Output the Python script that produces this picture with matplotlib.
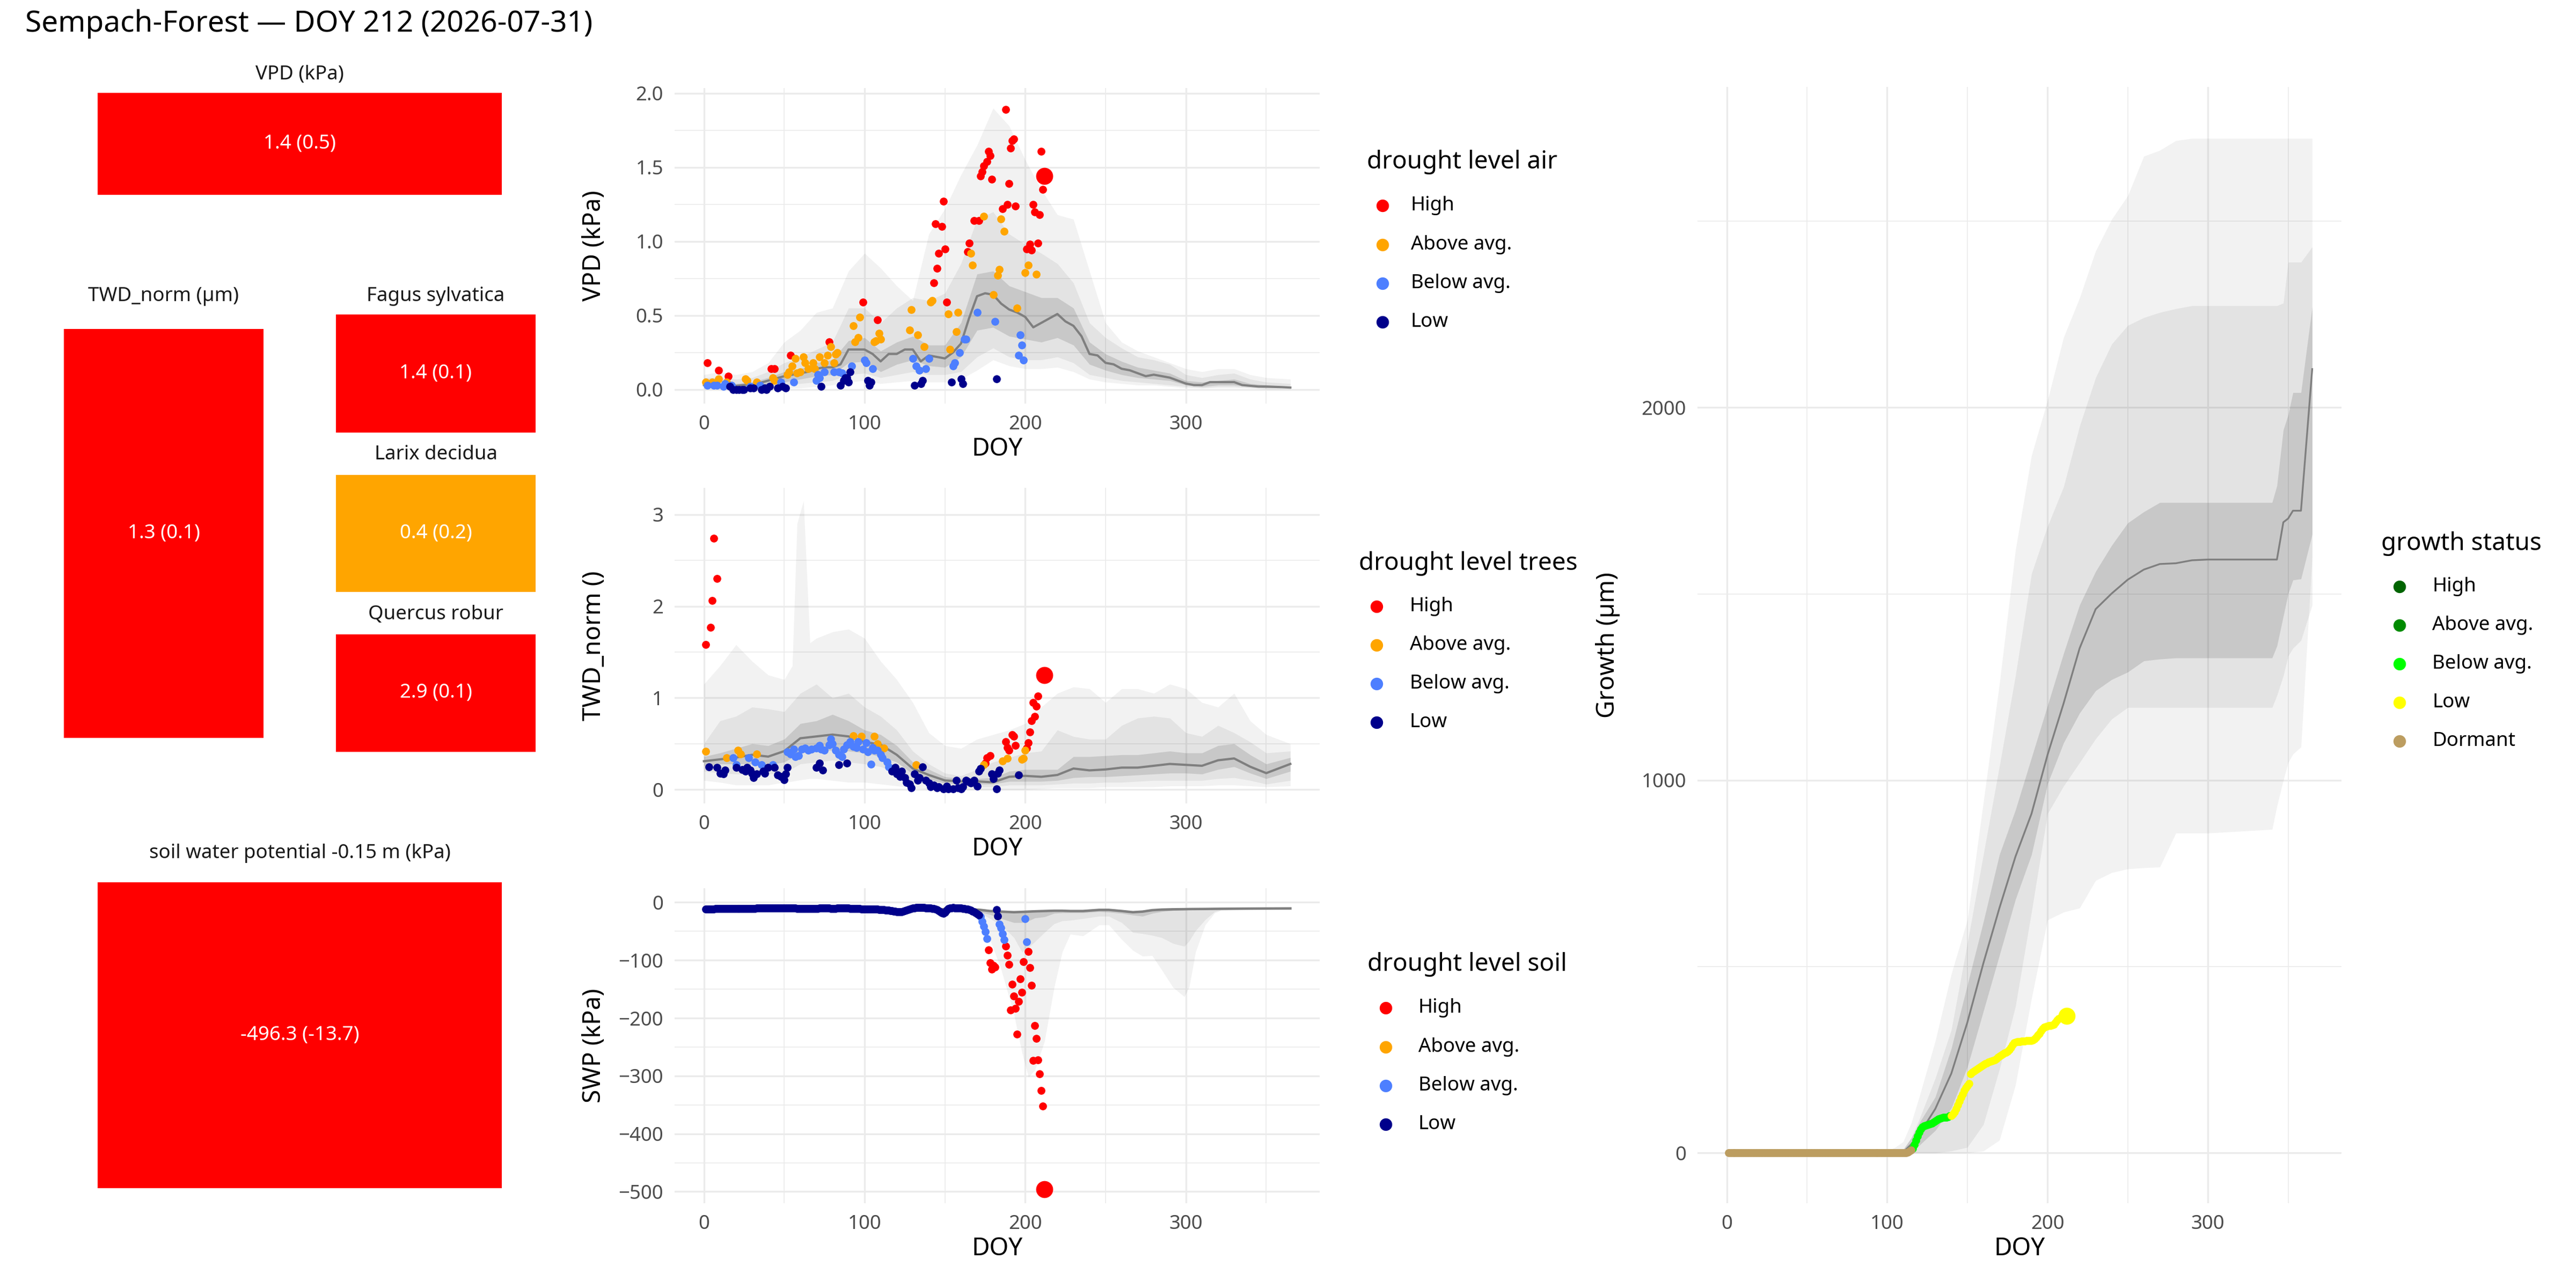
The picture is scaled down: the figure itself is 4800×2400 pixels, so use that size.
import matplotlib
matplotlib.use("Agg")
import matplotlib.pyplot as plt
from matplotlib.lines import Line2D
from matplotlib.patches import Rectangle
from matplotlib.ticker import FormatStrFormatter

plt.rcParams['font.family'] = ['Noto Sans', 'DejaVu Sans']

W, H = 4800, 2400

title = "Sempach-Forest \u2014 DOY 212 (2026-07-31)"
levels = ["High", "Above avg.", "Below avg.", "Low"]
level_colors = ["#FF0000", "#FFA500", "#4D7FFF", "#00008B"]
growth_levels = ["High", "Above avg.", "Below avg.", "Low", "Dormant"]
growth_colors = ["#006400", "#008B00", "#00FF00", "#FFFF00", "#BC9D60"]
# outer / middle / inner ribbons, translucent so the grid shows through
band_alpha = [0.051, 0.058, 0.118]

# summary tiles
tile_names = ["VPD (kPa)", "TWD_norm (\u00b5m)", "Fagus sylvatica", "Larix decidua",
              "Quercus robur", "soil water potential -0.15 m (kPa)"]
tile_values = [1.4, 1.3, 1.4, 0.4, 2.9, -496.3]
tile_sd = [0.5, 0.1, 0.1, 0.2, 0.1, -13.7]
tile_levels = ["High", "High", "High", "Above avg.", "High", "High"]

today_doy = 212
vpd_today = 1.44
twd_today = 1.25
swp_today = -496.3
growth_today = 368

# ---------------- VPD ----------------
vpd_high_doy = [2, 9, 15, 42, 44, 54, 78, 99, 108, 143, 144, 145, 146, 148, 149, 150, 151,
                164, 165, 168, 171, 172, 173, 174, 176, 177, 178, 179, 186, 188, 189, 190, 191,
                192, 193, 194, 201, 203, 204, 205, 206, 208, 209, 210, 211]
vpd_high = [0.18, 0.13, 0.09, 0.14, 0.14, 0.23, 0.32, 0.59, 0.47, 0.72, 1.12, 0.82, 0.92, 1.10, 1.27, 0.95, 0.59,
            0.93, 0.99, 1.14, 1.14, 1.44, 1.47, 1.51, 1.54, 1.61, 1.58, 1.42, 1.22, 1.89, 1.25, 1.39, 1.63,
            1.68, 1.69, 1.24, 0.95, 0.98, 0.94, 1.25, 1.20, 0.99, 1.18, 1.61, 1.35]
vpd_above_doy = [1, 5, 9, 14, 26, 27, 33, 43, 44, 52, 53, 55, 57, 58, 60, 62, 63, 65, 68, 69,
                 72, 75, 77, 79, 81, 82, 83, 93, 94, 96, 97, 106, 107, 109, 110, 128, 129, 133, 137, 141, 142,
                 152, 153, 157, 158, 166, 167, 174, 180, 183, 184, 185, 187, 195, 200, 202, 207]
vpd_above = [0.05, 0.05, 0.07, 0.05, 0.07, 0.06, 0.05, 0.08, 0.06, 0.10, 0.12, 0.16, 0.21, 0.11, 0.12, 0.22, 0.18, 0.14, 0.18, 0.14,
             0.22, 0.18, 0.23, 0.29, 0.18, 0.24, 0.25, 0.43, 0.32, 0.35, 0.49, 0.32, 0.33, 0.38, 0.34, 0.40, 0.54, 0.37, 0.29, 0.59, 0.60,
             0.51, 0.27, 0.39, 0.52, 0.92, 0.84, 1.17, 0.64, 0.77, 0.81, 1.15, 1.07, 0.55, 0.79, 0.84, 0.78]
vpd_below_doy = [2, 6, 8, 12, 13, 17, 29, 35, 48, 56, 70, 71, 72, 75, 81, 84, 86, 92, 100, 101, 105,
                 130, 132, 134, 138, 140, 155, 156, 159, 162, 163, 170, 181, 196, 197, 198, 199]
vpd_below = [0.03, 0.03, 0.03, 0.02, 0.04, 0.03, 0.02, 0.03, 0.05, 0.05, 0.06, 0.10, 0.08, 0.12, 0.12, 0.12, 0.11, 0.16, 0.20, 0.18, 0.14,
             0.21, 0.16, 0.13, 0.14, 0.21, 0.16, 0.18, 0.25, 0.34, 0.34, 0.52, 0.46, 0.23, 0.37, 0.30, 0.20]
vpd_low_doy = [16, 18, 20, 22, 24, 25, 29, 31, 36, 38, 39, 41, 46, 49, 51, 73, 85, 87, 88, 89,
               90, 91, 102, 103, 104, 131, 135, 136, 154, 160, 161, 182]
vpd_low = [0.02, 0.00, 0.00, 0.00, 0.00, 0.00, 0.01, 0.01, 0.00, 0.01, 0.00, 0.02, 0.01, 0.02, 0.01, 0.02, 0.03, 0.06, 0.08, 0.08,
           0.05, 0.12, 0.06, 0.03, 0.05, 0.03, 0.04, 0.06, 0.05, 0.07, 0.04, 0.07]

vpd_med_doy = [0, 5, 10, 15, 20, 25, 30, 35, 40, 45, 50, 55, 60, 65, 70, 75, 80, 85, 90, 95, 100, 105, 110, 115,
               120, 125, 130, 135, 140, 145, 150, 155, 160, 165, 170, 175, 180, 185, 190, 195, 200, 205, 210, 215,
               220, 225, 230, 235, 240, 245, 250, 255, 260, 265, 270, 275, 280, 285, 290, 295, 300, 305, 310, 315,
               320, 325, 330, 335, 340, 345, 350, 355, 360, 365]
vpd_med = [0.03, 0.03, 0.03, 0.03, 0.025, 0.03, 0.035, 0.045, 0.06, 0.075, 0.09, 0.10, 0.11, 0.12, 0.14, 0.15, 0.15, 0.17, 0.27, 0.27, 0.27, 0.24, 0.19, 0.24,
           0.24, 0.27, 0.27, 0.19, 0.23, 0.22, 0.21, 0.25, 0.31, 0.48, 0.63, 0.65, 0.64, 0.58, 0.54, 0.52, 0.49, 0.42, 0.45, 0.48,
           0.51, 0.46, 0.43, 0.36, 0.24, 0.23, 0.18, 0.17, 0.14, 0.13, 0.11, 0.09, 0.10, 0.09, 0.08, 0.06, 0.04, 0.03, 0.03, 0.05,
           0.05, 0.05, 0.05, 0.03, 0.025, 0.02, 0.02, 0.018, 0.016, 0.013]

band_doy = [0, 10, 20, 30, 40, 50, 60, 70, 80, 90, 100, 110, 120, 130, 140, 150, 160, 170, 180,
            190, 200, 210, 220, 230, 240, 250, 260, 270, 280, 290, 300, 310, 320, 330, 340, 350, 365]
vpd_in_lo = [0.02, 0.02, 0.01, 0.02, 0.03, 0.05, 0.07, 0.09, 0.10, 0.18, 0.19, 0.12, 0.17, 0.20, 0.16, 0.15, 0.22, 0.40, 0.42,
             0.36, 0.34, 0.32, 0.35, 0.30, 0.17, 0.13, 0.10, 0.08, 0.07, 0.06, 0.03, 0.02, 0.03, 0.03, 0.02, 0.01, 0.01]
vpd_in_hi = [0.05, 0.05, 0.04, 0.05, 0.08, 0.12, 0.14, 0.18, 0.20, 0.33, 0.35, 0.26, 0.32, 0.36, 0.30, 0.30, 0.45, 0.78, 0.80,
             0.70, 0.66, 0.62, 0.62, 0.55, 0.32, 0.24, 0.19, 0.15, 0.13, 0.11, 0.06, 0.05, 0.06, 0.07, 0.04, 0.03, 0.02]
vpd_mid_lo = [0.01, 0.01, 0.00, 0.01, 0.02, 0.03, 0.04, 0.05, 0.06, 0.10, 0.11, 0.08, 0.10, 0.12, 0.10, 0.10, 0.12, 0.22, 0.28,
              0.22, 0.20, 0.20, 0.22, 0.18, 0.10, 0.08, 0.06, 0.05, 0.04, 0.03, 0.02, 0.01, 0.02, 0.02, 0.01, 0.01, 0.01]
vpd_mid_hi = [0.08, 0.08, 0.07, 0.08, 0.12, 0.18, 0.22, 0.27, 0.32, 0.55, 0.55, 0.45, 0.55, 0.62, 0.60, 0.65, 0.85, 1.15, 1.20,
              1.05, 0.98, 0.92, 0.85, 0.72, 0.45, 0.35, 0.28, 0.22, 0.20, 0.17, 0.10, 0.08, 0.10, 0.11, 0.07, 0.05, 0.04]
vpd_out_lo = [0.0, 0.0, 0.0, 0.0, 0.0, 0.01, 0.01, 0.02, 0.03, 0.05, 0.06, 0.04, 0.05, 0.06, 0.05, 0.05, 0.07, 0.13, 0.20,
              0.16, 0.14, 0.14, 0.15, 0.12, 0.07, 0.05, 0.04, 0.03, 0.03, 0.02, 0.01, 0.01, 0.01, 0.01, 0.01, 0.0, 0.0]
vpd_out_hi = [0.10, 0.12, 0.10, 0.12, 0.18, 0.32, 0.40, 0.52, 0.55, 0.80, 0.92, 0.82, 0.70, 0.60, 1.05, 1.22, 1.45, 1.65, 1.90,
              1.78, 1.55, 1.35, 1.18, 1.15, 0.80, 0.45, 0.32, 0.26, 0.22, 0.18, 0.14, 0.12, 0.14, 0.14, 0.10, 0.08, 0.07]

# ---------------- TWD ----------------
twd_high_doy = [1, 4, 5, 6, 8, 175, 176, 178, 188, 189, 190, 192, 193, 194, 201, 202, 203, 204, 205, 206, 207, 208]
twd_high = [1.58, 1.77, 2.06, 2.74, 2.30, 0.29, 0.35, 0.37, 0.52, 0.46, 0.43, 0.60, 0.58, 0.48, 0.45, 0.51, 0.63, 0.75, 0.95, 0.80, 0.91, 1.02]
twd_above_doy = [1, 14, 21, 23, 33, 93, 98, 106, 108, 112, 132, 174, 186, 189, 198, 199, 200]
twd_above = [0.42, 0.35, 0.43, 0.39, 0.39, 0.59, 0.58, 0.58, 0.50, 0.45, 0.27, 0.27, 0.31, 0.34, 0.33, 0.34, 0.43]
twd_below_doy = [18, 20, 28, 32, 36, 43, 52, 54, 56, 57, 59, 61, 63, 65, 67, 70, 72, 73, 75, 78,
                 79, 80, 82, 84, 86, 87, 89, 91, 93, 95, 96, 99, 101, 102, 104, 105, 106, 108, 110, 111, 114, 115]
twd_below = [0.35, 0.27, 0.35, 0.30, 0.27, 0.27, 0.41, 0.39, 0.44, 0.36, 0.37, 0.44, 0.45, 0.43, 0.44, 0.45, 0.48, 0.44, 0.43, 0.49,
             0.55, 0.50, 0.43, 0.38, 0.36, 0.44, 0.49, 0.52, 0.47, 0.46, 0.52, 0.44, 0.51, 0.41, 0.28, 0.46, 0.43, 0.43, 0.38, 0.35, 0.30, 0.25]
twd_low_doy = [3, 8, 10, 12, 13, 20, 24, 26, 27, 29, 30, 31, 33, 37, 38, 40, 44, 46, 48, 50,
               51, 52, 70, 72, 74, 84, 89, 117, 119, 120, 122, 123, 125, 126, 128, 129, 131, 133, 134, 136,
               138, 140, 141, 143, 145, 146, 149, 151, 152, 155, 157, 158, 160, 161, 163, 164, 166, 168, 170, 171,
               172, 179, 180, 182, 183, 184, 196]
twd_low = [0.25, 0.24, 0.18, 0.17, 0.21, 0.24, 0.22, 0.20, 0.24, 0.21, 0.18, 0.13, 0.17, 0.20, 0.18, 0.24, 0.24, 0.16, 0.14, 0.11,
           0.17, 0.24, 0.24, 0.29, 0.21, 0.27, 0.29, 0.20, 0.24, 0.17, 0.14, 0.20, 0.13, 0.08, 0.06, 0.02, 0.17, 0.10, 0.13, 0.25,
           0.10, 0.07, 0.03, 0.05, 0.02, 0.03, 0.01, 0.04, 0.01, 0.01, 0.10, 0.02, 0.01, 0.03, 0.10, 0.09, 0.07, 0.10, 0.04, 0.20,
           0.23, 0.17, 0.12, 0.01, 0.18, 0.21, 0.16]

twd_med = [0.31, 0.33, 0.35, 0.38, 0.36, 0.42, 0.56, 0.58, 0.60, 0.58, 0.52, 0.49, 0.38, 0.23, 0.16, 0.10, 0.09, 0.09, 0.08,
           0.14, 0.15, 0.14, 0.16, 0.23, 0.21, 0.22, 0.24, 0.24, 0.26, 0.28, 0.27, 0.26, 0.32, 0.34, 0.25, 0.18, 0.28]
twd_in_lo = [0.26, 0.28, 0.28, 0.28, 0.27, 0.30, 0.40, 0.42, 0.43, 0.42, 0.40, 0.36, 0.30, 0.17, 0.11, 0.07, 0.06, 0.06, 0.06,
             0.09, 0.09, 0.09, 0.10, 0.13, 0.14, 0.14, 0.15, 0.16, 0.17, 0.18, 0.18, 0.17, 0.22, 0.25, 0.18, 0.12, 0.20]
twd_in_hi = [0.36, 0.40, 0.45, 0.50, 0.48, 0.55, 0.72, 0.75, 0.82, 0.75, 0.65, 0.60, 0.48, 0.30, 0.22, 0.14, 0.12, 0.12, 0.13,
             0.20, 0.22, 0.22, 0.22, 0.36, 0.36, 0.37, 0.38, 0.38, 0.40, 0.42, 0.40, 0.40, 0.48, 0.50, 0.38, 0.28, 0.35]
twd_mid_lo = [0.20, 0.18, 0.17, 0.17, 0.17, 0.18, 0.28, 0.30, 0.32, 0.30, 0.28, 0.25, 0.18, 0.09, 0.05, 0.03, 0.03, 0.03, 0.03,
              0.05, 0.05, 0.05, 0.06, 0.07, 0.07, 0.08, 0.08, 0.09, 0.10, 0.10, 0.10, 0.10, 0.12, 0.13, 0.10, 0.06, 0.10]
twd_mid_hi = [0.50, 0.75, 0.80, 0.90, 0.88, 0.85, 1.05, 1.15, 1.00, 1.05, 0.90, 0.80, 0.65, 0.42, 0.28, 0.18, 0.15, 0.22, 0.30,
              0.35, 0.40, 0.42, 0.65, 0.58, 0.55, 0.55, 0.70, 0.78, 0.80, 0.78, 0.62, 0.58, 0.70, 0.62, 0.52, 0.40, 0.42]
twd_out_doy = [0, 10, 20, 30, 40, 50, 55, 58, 62, 66, 70, 80, 90, 100, 110, 120, 130, 140, 150, 160,
               170, 180, 190, 200, 210, 220, 230, 240, 250, 260, 270, 280, 290, 300, 310, 320, 330, 340, 350, 365]
twd_out_lo = [0.10, 0.08, 0.05, 0.05, 0.05, 0.08, 0.09, 0.10, 0.11, 0.12, 0.12, 0.10, 0.08, 0.08, 0.06, 0.04, 0.02, 0.0, 0.0, 0.0,
              0.0, 0.0, 0.0, 0.0, 0.01, 0.02, 0.02, 0.02, 0.03, 0.03, 0.03, 0.03, 0.04, 0.04, 0.04, 0.05, 0.05, 0.04, 0.03, 0.04]
twd_out_hi = [1.15, 1.35, 1.58, 1.40, 1.25, 1.20, 1.35, 2.90, 3.15, 1.60, 1.65, 1.72, 1.75, 1.65, 1.40, 1.20, 0.95, 0.62, 0.48, 0.45,
              0.55, 0.60, 0.65, 0.72, 0.90, 1.05, 1.12, 1.10, 0.95, 1.10, 1.10, 1.05, 1.15, 1.10, 0.95, 0.90, 1.05, 0.75, 0.60, 0.50]

# ---------------- SWP ----------------
swp_low_doy = list(range(1, 172)) + [182, 183]
swp_low = [-11.5, -11.5, -11.4, -11.4, -11.3, -11.3, -11.2, -11.2, -11.1, -11.1,
           -11.0, -11.0, -11.0, -10.9, -10.9, -10.9, -10.8, -10.8, -10.8, -10.7,
           -10.7, -10.7, -10.6, -10.6, -10.6, -10.5, -10.5, -10.5, -10.4, -10.4,
           -10.3, -10.3, -10.2, -10.2, -10.1, -10.1, -10.0, -10.0, -10.0, -9.9,
           -9.9, -9.8, -9.8, -9.7, -9.7, -9.6, -9.6, -9.5, -9.5, -9.5,
           -9.6, -9.7, -9.8, -9.9, -10.0, -10.1, -10.2, -10.3, -10.4, -10.5,
           -10.6, -10.6, -10.7, -10.7, -10.8, -10.8, -10.8, -10.7, -10.6, -10.5,
           -10.3, -10.1, -9.9, -9.8, -9.7, -9.8, -10.0, -10.2, -10.4, -10.5,
           -10.5, -10.4, -10.2, -10.0, -9.8, -9.7, -9.7, -9.8, -10.0, -10.2,
           -10.4, -10.6, -10.8, -11.0, -11.1, -11.2, -11.2, -11.3, -11.3, -11.4,
           -11.4, -11.5, -11.5, -11.6, -11.7, -11.8, -11.9, -12.1, -12.3, -12.5,
           -12.7, -12.9, -13.1, -13.3, -13.6, -14.0, -14.6, -15.2, -15.8, -16.2,
           -16.5, -16.6, -16.4, -15.8, -14.9, -13.7, -12.5, -11.3, -10.4, -9.8,
           -9.5, -9.3, -9.2, -9.2, -9.2, -9.3, -9.3, -9.4, -9.5, -9.7,
           -10.0, -10.4, -11.0, -11.8, -12.8, -14.2, -16.0, -18.0, -19.0, -17.0,
           -13.5, -11.0, -9.8, -9.4, -9.3, -9.4, -9.6, -9.8, -10.0, -10.2,
           -10.5, -10.9, -11.4, -12.0, -12.8, -13.8, -15.0, -16.4, -18.0, -19.8,
           -22.0, -13.0, -24.0]
swp_below_doy = [172, 173, 174, 175, 176, 184, 185, 186, 187, 200, 201]
swp_below = [-25, -33, -41, -51, -63, -38, -44, -54, -65, -28, -68]
swp_high_doy = [177, 178, 179, 180, 181, 188, 189, 190, 191, 192, 193, 194, 195, 196, 197, 198, 199,
                202, 203, 204, 205, 206, 207, 208, 209, 210, 211]
swp_high = [-82, -104, -116, -109, -112, -76, -91, -107, -186, -142, -162, -183, -228, -171, -132, -155, -103,
            -85, -113, -143, -273, -213, -235, -272, -296, -325, -352]
swp_above_doy = []
swp_above = []

swp_band_doy = [0, 60, 120, 160, 166, 172, 178, 185, 193, 198, 202, 206, 212, 218, 223, 228, 236,
                246, 252, 260, 267, 273, 279, 285, 292, 299, 302, 306, 312, 318, 322, 340, 365]
swp_med = [-11, -10.5, -14, -11, -12, -13, -15, -16, -17, -16.5, -16, -15.5, -15, -14.5, -14.5, -15, -15,
           -13, -13, -15, -17, -16, -13.5, -12.5, -12, -11.8, -11.6, -11.5, -11.4, -11.2, -11.1, -10.8, -10.5]
swp_in_lo = [-12, -11.5, -16, -13, -14, -17, -21, -28, -35, -35, -32, -27, -25, -19, -18, -18, -18,
             -16, -17, -19, -22, -24, -19, -16, -14, -13, -13, -12.5, -12, -12, -11.8, -11.2, -10.8]
swp_in_hi = [-10, -9.5, -13, -10, -11, -12, -14, -15, -16, -15.5, -15, -14.5, -14, -13.5, -13.5, -14, -14,
             -12, -12, -14, -16, -15, -12.5, -11.5, -11, -10.8, -10.6, -10.5, -10.4, -10.2, -10.1, -9.8, -9.5]
swp_mid_lo = [-12.5, -12, -17, -14, -15, -18, -28, -39, -61, -86, -78, -68, -52, -37, -32, -31, -28,
              -24, -24, -35, -52, -54, -57, -61, -71, -76, -67, -49, -30, -16, -13, -11.5, -11]
swp_mid_hi = [-9.5, -9, -12.5, -9.5, -10.5, -11.5, -13.5, -14.5, -15.5, -15, -14.5, -14, -13.5, -13, -13, -13.5, -13.5,
              -11.5, -11.5, -13.5, -15.5, -14.5, -12, -11, -10.5, -10.3, -10.1, -10, -9.9, -9.7, -9.6, -9.3, -9]
swp_out_lo = [-13, -12.5, -18, -16, -18, -24, -64, -116, -194, -260, -302, -290, -240, -147, -86, -55, -58,
              -39, -39, -64, -83, -93, -92, -117, -147, -163, -147, -86, -39, -18, -14, -11.8, -11.2]
swp_out_hi = [-9, -8.5, -12, -9, -10, -11, -13, -14, -15, -14.5, -14, -13.5, -13, -12.5, -12.5, -13, -13,
              -11, -11, -13, -15, -14, -11.5, -10.5, -10, -9.8, -9.6, -9.5, -9.4, -9.2, -9.1, -8.8, -8.5]

# ---------------- Growth ----------------
growth_dormant_doy = list(range(1, 116))
growth_dormant = [0.0] * 112 + [2.0, 4.0, 8.0]   # flat zero until budburst
growth_below_doy = list(range(116, 140))
growth_below = [12, 22, 34, 45, 55, 63, 70, 72, 74, 75, 76, 78, 80, 83, 86, 88, 91, 93, 94, 95, 96, 96, 97, 99]
growth_low_doy = list(range(140, 212))
growth_low = [100, 104, 110, 118, 128, 138, 148, 158, 167, 174, 180, 186, 212, 216, 219, 222, 225, 228, 231, 234,
              236, 239, 241, 243, 245, 246, 248, 250, 253, 256, 259, 262, 265, 268, 270, 273, 277, 282, 290, 295,
              297, 298, 299, 299, 300, 300, 300, 301, 301, 302, 302, 303, 306, 310, 315, 320, 327, 333, 337, 339,
              340, 341, 342, 343, 345, 350, 356, 360, 362, 363, 365, 366]

growth_band_doy = [0, 100, 105, 110, 115, 120, 130, 140, 150, 160, 170, 180, 190, 200, 210, 220, 230, 240, 250, 260,
                   270, 280, 290, 300, 340, 343, 347, 350, 353, 358, 365]
growth_med = [0, 0, 0, 2, 23, 50, 118, 213, 350, 509, 657, 795, 910, 1068, 1206, 1354, 1459, 1501, 1538, 1565,
              1580, 1582, 1590, 1592, 1592, 1592, 1692, 1702, 1723, 1723, 2103]
growth_in_lo = [0, 0, 0, 0, 5, 20, 60, 120, 230, 380, 530, 680, 800, 990, 1100, 1180, 1240, 1270, 1290, 1320,
                1325, 1328, 1328, 1328, 1328, 1360, 1440, 1500, 1537, 1540, 1660]
growth_in_hi = [0, 0, 2, 8, 40, 80, 150, 280, 450, 620, 800, 920, 1060, 1200, 1340, 1470, 1560, 1630, 1690, 1720,
                1745, 1745, 1745, 1745, 1745, 1790, 1940, 1980, 2040, 2040, 2270]
growth_mid_lo = [0, 0, 0, 0, 0, 0, 0, 5, 15, 76, 224, 393, 646, 910, 984, 1047, 1111, 1164, 1195, 1195,
                 1195, 1195, 1195, 1195, 1195, 1227, 1280, 1333, 1354, 1375, 1470]
growth_mid_hi = [0, 0, 0, 10, 40, 90, 200, 330, 562, 800, 1037, 1280, 1554, 1681, 1787, 1950, 2080, 2170, 2220, 2241,
                 2255, 2265, 2273, 2273, 2273, 2273, 2280, 2390, 2390, 2390, 2431]
growth_out_lo = [0, 0, 0, 0, 0, 0, 0, 0, 0, 5, 34, 182, 414, 625, 646, 657, 731, 752, 762, 765,
                 767, 858, 858, 858, 868, 930, 1000, 1047, 1070, 1089, 1600]
growth_out_hi = [0, 5, 15, 30, 80, 150, 300, 480, 625, 941, 1258, 1617, 1871, 2019, 2188, 2294, 2420, 2505, 2568, 2674,
                 2690, 2716, 2722, 2722, 2722, 2722, 2722, 2722, 2722, 2722, 2722]


def px_box(x0, y0, x1, y1):
    return [x0 / W, 1 - y1 / H, (x1 - x0) / W, (y1 - y0) / H]


def style_ax(ax, ylim, yticks, yminor):
    ax.set_xlim(-18.25, 383.25)
    ax.set_ylim(ylim)
    ax.set_xticks([0, 100, 200, 300])
    ax.set_xticks([50, 150, 250, 350], minor=True)
    ax.set_yticks(yticks)
    ax.set_yticks(yminor, minor=True)
    ax.grid(which='major', color='#EBEBEB', lw=0.8)
    ax.grid(which='minor', color='#EBEBEB', lw=0.4)
    ax.set_axisbelow(True)
    for s in ax.spines.values():
        s.set_visible(False)
    ax.tick_params(which='both', length=0, pad=5, labelsize=8.8, labelcolor='#4D4D4D')


def draw_bands(ax, doy, lo_hi_list, out_doy=None):
    for i, (lo, hi) in enumerate(lo_hi_list):
        x = out_doy if (i == 0 and out_doy is not None) else doy
        ax.fill_between(x, lo, hi, color='black', alpha=band_alpha[i], lw=0, zorder=1)


def draw_points(ax, groups, colors):
    for (d, v), c in zip(groups, colors):
        if len(d):
            ax.scatter(d, v, s=12.5, color=c, lw=0, zorder=3)


def draw_legend(x_title, y_title, x_dot, x_txt, rows, ttl, labels, colors):
    fig.text(x_title / W, 1 - y_title / H, ttl, fontsize=11, ha='left', va='center')
    for y, lab, c in zip(rows, labels, colors):
        fig.add_artist(Line2D([x_dot / W], [1 - y / H], marker='o', ms=5.6, color=c, ls='',
                              mec='none', transform=fig.transFigure))
        fig.text(x_txt / W, 1 - y / H, lab, fontsize=8.8, ha='left', va='center')


fig = plt.figure(figsize=(16, 8), dpi=300)
fig.text(47 / W, 1 - 44 / H, title, fontsize=13.2, ha='left', va='center')

# ---- tiles ----
tile_boxes = [(182, 173, 935, 363), (119, 613, 491, 1375), (626, 586, 998, 806),
              (626, 885, 998, 1103), (626, 1182, 998, 1401), (182, 1644, 935, 2214)]
tile_title_y = [139, 552, 552, 847, 1145, 1590]
lvl_col = dict(zip(levels, level_colors))
for name, v, sd, lvl, box, ty in zip(tile_names, tile_values, tile_sd, tile_levels, tile_boxes, tile_title_y):
    tax = fig.add_axes(px_box(*box))
    tax.set_axis_off()
    tax.add_patch(Rectangle((0, 0), 1, 1, transform=tax.transAxes, color=lvl_col[lvl], lw=0))
    tax.text(0.5, 0.5, f"{v:.1f} ({sd:.1f})", color='white', fontsize=8.8,
             ha='center', va='center', transform=tax.transAxes)
    fig.text((box[0] + box[2]) / 2 / W, 1 - ty / H, name, fontsize=8.8, color='#1A1A1A',
             ha='center', va='center')

ylab_x = -0.106
med_color = '#7F7F7F'

# ---- VPD ----
ax1 = fig.add_axes(px_box(1257, 164, 2459, 752))
style_ax(ax1, (-0.095, 2.036), [0, 0.5, 1.0, 1.5, 2.0], [0.25, 0.75, 1.25, 1.75])
ax1.yaxis.set_major_formatter(FormatStrFormatter('%.1f'))
draw_bands(ax1, band_doy, [(vpd_out_lo, vpd_out_hi), (vpd_mid_lo, vpd_mid_hi), (vpd_in_lo, vpd_in_hi)])
ax1.plot(vpd_med_doy, vpd_med, color=med_color, lw=1.0, zorder=2)
draw_points(ax1, [(vpd_high_doy, vpd_high), (vpd_above_doy, vpd_above),
                  (vpd_below_doy, vpd_below), (vpd_low_doy, vpd_low)], level_colors)
ax1.scatter([today_doy], [vpd_today], s=58, color='#FF0000', lw=0, zorder=4)
ax1.set_ylabel("VPD (kPa)", fontsize=11)
ax1.yaxis.set_label_coords(ylab_x, 0.5)
ax1.set_xlabel("DOY", fontsize=11)
ax1.xaxis.set_label_coords(0.5, -0.105)

# ---- TWD ----
ax2 = fig.add_axes(px_box(1257, 909, 2459, 1497))
style_ax(ax2, (-0.15, 3.29), [0, 1, 2, 3], [0.5, 1.5, 2.5])
draw_bands(ax2, band_doy, [(twd_out_lo, twd_out_hi), (twd_mid_lo, twd_mid_hi), (twd_in_lo, twd_in_hi)],
           out_doy=twd_out_doy)
ax2.plot(band_doy, twd_med, color=med_color, lw=1.0, zorder=2)
draw_points(ax2, [(twd_high_doy, twd_high), (twd_above_doy, twd_above),
                  (twd_below_doy, twd_below), (twd_low_doy, twd_low)], level_colors)
ax2.scatter([today_doy], [twd_today], s=58, color='#FF0000', lw=0, zorder=4)
ax2.set_ylabel("TWD_norm ()", fontsize=11)
ax2.yaxis.set_label_coords(ylab_x, 0.5)
ax2.set_xlabel("DOY", fontsize=11)
ax2.xaxis.set_label_coords(0.5, -0.105)

# ---- SWP ----
ax3 = fig.add_axes(px_box(1257, 1655, 2459, 2242))
style_ax(ax3, (-520, 24.5), [0, -100, -200, -300, -400, -500], [-50, -150, -250, -350, -450])
draw_bands(ax3, swp_band_doy, [(swp_out_lo, swp_out_hi), (swp_mid_lo, swp_mid_hi), (swp_in_lo, swp_in_hi)])
ax3.plot(swp_band_doy, swp_med, color=med_color, lw=1.1, zorder=2)
draw_points(ax3, [(swp_high_doy, swp_high), (swp_above_doy, swp_above),
                  (swp_below_doy, swp_below), (swp_low_doy, swp_low)], level_colors)
ax3.scatter([today_doy], [swp_today], s=58, color='#FF0000', lw=0, zorder=4)
ax3.set_ylabel("SWP (kPa)", fontsize=11)
ax3.yaxis.set_label_coords(ylab_x, 0.5)
ax3.set_xlabel("DOY", fontsize=11)
ax3.xaxis.set_label_coords(0.5, -0.105)

# ---- Growth ----
ax4 = fig.add_axes(px_box(3163, 162, 4363, 2242))
style_ax(ax4, (-135, 2860), [0, 1000, 2000], [500, 1500, 2500])
draw_bands(ax4, growth_band_doy, [(growth_out_lo, growth_out_hi), (growth_mid_lo, growth_mid_hi),
                                  (growth_in_lo, growth_in_hi)])
ax4.plot(growth_band_doy, growth_med, color=med_color, lw=0.8, zorder=2)
draw_points(ax4, [(growth_below_doy, growth_below), (growth_low_doy, growth_low),
                  (growth_dormant_doy, growth_dormant)],
            [growth_colors[2], growth_colors[3], growth_colors[4]])
ax4.scatter([today_doy], [growth_today], s=58, color=growth_colors[3], lw=0, zorder=4)
ax4.set_ylabel("Growth (\u00b5m)", fontsize=11)
ax4.yaxis.set_label_coords(-0.12, 0.5)
ax4.set_xlabel("DOY", fontsize=11)
ax4.xaxis.set_label_coords(0.5, -0.03)

# ---- legends ----
draw_legend(2547, 302, 2576, 2629, [383, 456, 528, 600], "drought level air", levels, level_colors)
draw_legend(2532, 1050, 2565, 2627, [1130, 1202, 1274, 1346], "drought level trees", levels, level_colors)
draw_legend(2548, 1797, 2582, 2643, [1878, 1951, 2023, 2095], "drought level soil", levels, level_colors)
draw_legend(4437, 1013, 4471, 4532, [1093, 1165, 1237, 1309, 1381], "growth status", growth_levels, growth_colors)

fig.savefig("out.png", dpi=300, facecolor='white')
